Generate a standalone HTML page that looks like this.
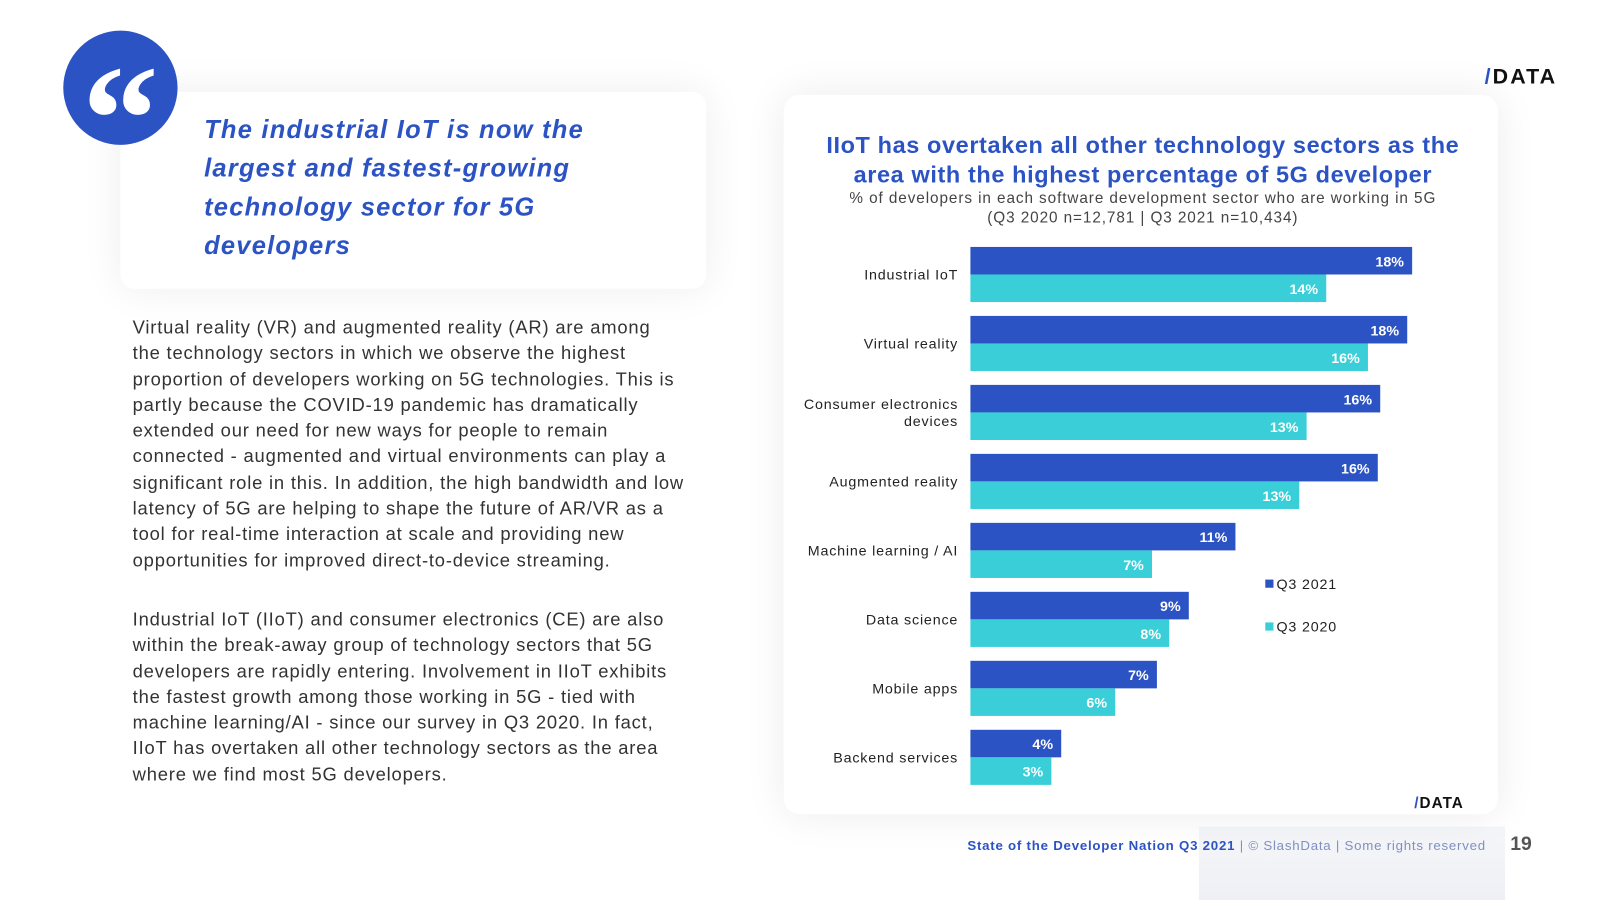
<!DOCTYPE html>
<html><head><meta charset="utf-8"><style>
body{margin:0;width:1600px;height:900px;background:#fff;font-family:"Liberation Sans",sans-serif;overflow:hidden;position:relative}
#wrap{position:absolute;left:0;top:0;width:1568px;height:882px;transform:scale(1.0204);transform-origin:0 0}
.abs{position:absolute}
.bt{white-space:nowrap;font:18px/25.3px 'Liberation Sans',sans-serif;color:#333;letter-spacing:0.8px}
</style></head><body><div id="wrap">
<div class="abs" style="left:1175px;top:810px;width:300px;height:72px;background:linear-gradient(#f5f6f9,#eef0f5)"></div>
<div class="abs" style="left:118px;top:90px;width:574px;height:193px;background:#fff;border-radius:14px;box-shadow:0 0 40px rgba(0,0,0,0.07)"></div>
<div class="abs" style="left:62px;top:30px;width:112px;height:112px;border-radius:50%;background:#2b53c4;color:#fff;font:bold 150px/175px 'Liberation Serif',serif;text-align:center">&#8220;</div>
<div class="abs" style="left:200px;top:108px;white-space:nowrap;font:italic bold 25px/38px 'Liberation Sans',sans-serif;color:#2b53c4;letter-spacing:1.2px">The industrial IoT is now the<br>largest and fastest-growing<br>technology sector for 5G<br>developers</div>
<div class="abs bt" style="left:130px;top:309px">Virtual reality (VR) and augmented reality (AR) are among<br>the technology sectors in which we observe the highest<br>proportion of developers working on 5G technologies. This is<br>partly because the COVID-19 pandemic has dramatically<br>extended our need for new ways for people to remain<br>connected - augmented and virtual environments can play a<br>significant role in this. In addition, the high bandwidth and low<br>latency of 5G are helping to shape the future of AR/VR as a<br>tool for real-time interaction at scale and providing new<br>opportunities for improved direct-to-device streaming.</div>
<div class="abs bt" style="left:130px;top:595px">Industrial IoT (IIoT) and consumer electronics (CE) are also<br>within the break-away group of technology sectors that 5G<br>developers are rapidly entering. Involvement in IIoT exhibits<br>the fastest growth among those working in 5G - tied with<br>machine learning/AI - since our survey in Q3 2020. In fact,<br>IIoT has overtaken all other technology sectors as the area<br>where we find most 5G developers.</div>
<div class="abs" style="left:1455px;top:64px;font:bold 21px 'Liberation Sans',sans-serif;color:#111;letter-spacing:2px"><span style="color:#2b53c4">/</span>DATA</div>
<div class="abs" style="left:768px;top:93px;width:700px;height:705px;background:#fff;border-radius:16px;box-shadow:0 0 40px rgba(0,0,0,0.08)"></div>
<div class="abs" style="left:790px;top:128px;width:660px;text-align:center;white-space:nowrap;font:bold 23px/29px 'Liberation Sans',sans-serif;color:#2b53c4;letter-spacing:0.6px">IIoT has overtaken all other technology sectors as the<br>area with the highest percentage of 5G developer</div>
<div class="abs" style="left:790px;top:185px;width:660px;text-align:center;font:15px/19px 'Liberation Sans',sans-serif;color:#444;letter-spacing:0.9px;white-space:nowrap">% of developers in each software development sector who are working in 5G<br>(Q3 2020 n=12,781 | Q3 2021 n=10,434)</div>
<svg class="abs" style="left:0;top:0" width="1600" height="900" id="chart"></svg>
<div class="abs" style="left:1386px;top:779px;font:bold 15px 'Liberation Sans',sans-serif;color:#111;letter-spacing:1px"><span style="color:#2b53c4">/</span>DATA</div>
<div class="abs" style="left:948px;top:821px;font:13px 'Liberation Sans',sans-serif;color:#8090c0;letter-spacing:0.75px;white-space:nowrap"><b style="color:#2b53c4">State of the Developer Nation Q3 2021</b> | © SlashData | Some rights reserved</div>
<div class="abs" style="left:1480px;top:817px;font:bold 19px 'Liberation Sans',sans-serif;color:#555">19</div>
</div>
<script>
const categories=["Industrial IoT","Virtual reality","Consumer electronics devices","Augmented reality","Machine learning / AI","Data science","Mobile apps","Backend services"];
const q3_2021=[18.0,17.8,16.7,16.6,10.8,8.9,7.6,3.7];
const q3_2020=[14.5,16.2,13.7,13.4,7.4,8.1,5.9,3.3];
const labels2021=["18%","18%","16%","16%","11%","9%","7%","4%"];
const labels2020=["14%","16%","13%","13%","7%","8%","6%","3%"];
const svg=document.getElementById('chart');const NS='http://www.w3.org/2000/svg';
const x0=951,pxPer=24.05,y0=242,step=67.6,bh=27;
const xs=v=>v*pxPer;
function mk(t,a){const e=document.createElementNS(NS,t);for(const k in a)e.setAttribute(k,a[k]);svg.appendChild(e);return e;}
categories.forEach((c,i)=>{
 const y=y0+i*step;
 const b1=mk('rect',{x:x0,y:y,width:xs(q3_2021[i]),height:bh,fill:'#2b53c4'});
 
 
 const b2=mk('rect',{x:x0,y:y+bh,width:xs(q3_2020[i]),height:bh,fill:'#3acfd8'});
 
 
 const t1=mk('text',{x:x0+xs(q3_2021[i])-8,y:y+19,'text-anchor':'end',fill:'#fff','font-size':14,'font-weight':'bold','font-family':'Liberation Sans'});t1.textContent=labels2021[i];
 
 
 const t2=mk('text',{x:x0+xs(q3_2020[i])-8,y:y+bh+19,'text-anchor':'end',fill:'#fff','font-size':14,'font-weight':'bold','font-family':'Liberation Sans'});t2.textContent=labels2020[i];
 
 
 const words=c==="Consumer electronics devices"?["Consumer electronics","devices"]:[c];
 words.forEach((w,j)=>{const tl=mk('text',{x:939,y:y+bh+5-(words.length-1)*8.5+j*17,'text-anchor':'end',fill:'#222','font-size':14,'letter-spacing':'0.8','font-family':'Liberation Sans'});tl.textContent=w;
 
 });
});
[["Q3 2021","#2b53c4",576],["Q3 2020","#3acfd8",618]].forEach(l=>{
 const r=mk('rect',{x:1240,y:l[2]-8,width:8,height:8,fill:l[1]});
 
 
 const t=mk('text',{x:1251,y:l[2]+1,fill:'#222','font-size':14,'letter-spacing':'0.8','font-family':'Liberation Sans'});t.textContent=l[0];
 
 
});
</script>
</body></html>
